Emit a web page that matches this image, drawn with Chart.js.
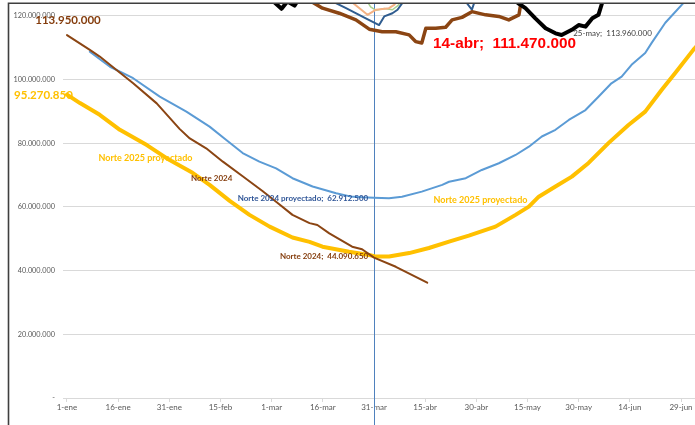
<!DOCTYPE html>
<html><head><meta charset="utf-8">
<script src="https://cdn.jsdelivr.net/npm/chart.js@4.4.1/dist/chart.umd.min.js"></script>
<style>html,body{margin:0;padding:0;background:#fff;overflow:hidden}canvas{display:block}</style>
</head><body>
<canvas id="c" width="695" height="425"></canvas>
<script>
// x = days since 1-ene (leap-year calendar), values in millions
const tickDays = [0,15,30,45,60,75,90,105,120,135,150,165,180];
const tickLabels = ['1-ene','16-ene','31-ene','15-feb','1-mar','16-mar','31-mar','15-abr','30-abr','15-may','30-may','14-jun','29-jun'];
const yTicks = [0,20,40,60,80,100,120];

const proy2025Days = [0,3.8,9.6,15.5,23.4,30.1,36.8,41.8,47.7,53.5,59.4,66.1,71.1,74.9,82.7,88.6,90.6,94.4,100.3,106.1,112,117.8,125.6,131.5,135.4,138.3,143.2,148,152.9,158.8,164.6,169.5,174.3,178.3,183.6,185];
const proy2025Vals = [95.27,92.6,88.9,84.2,79.4,74.7,70.7,66.9,61.9,57.5,53.8,50.4,49.0,47.5,45.9,44.9,44.4,44.4,45.5,47.1,49.1,51.0,53.8,57.5,60.1,63.2,66.4,69.5,73.8,80.1,85.7,89.9,96.7,102.0,109.3,111];

const proy2024Days = [6.7,12.6,19.4,27.2,35,41.8,46.7,51.5,56.4,61.3,66.1,72,78.9,83,86.5,90,94.4,98.2,104,110,112,116.9,121.6,126.6,131.5,135.4,139.2,143.2,147.1,152,155.8,159.6,162.6,165.5,169.5,171.4,175.4,180.7,185];
const proy2024Vals = [108.7,104.0,100.4,94.6,89.9,85.2,81.0,76.9,74.2,72.1,69.0,66.4,64.3,63.3,63.0,62.9,62.7,63.2,64.8,66.9,67.9,69.0,71.6,73.7,76.3,78.9,82.1,84.2,87.3,90.4,94.6,98.8,100.9,104.6,108.3,111.5,117.8,124,129];

const real2024Days = [0,6.7,9.6,12.6,19.4,26.3,33,36,40.8,45.7,51.5,57.3,61.3,66.1,71.1,73.4,76.9,83.6,86.5,90,96.4,105.6];
const real2024Vals = [113.95,109.3,107.2,104.6,98.8,92.5,84.5,81.5,78.4,74.2,69.6,65.0,61.6,57.5,54.9,54.3,51.7,47.5,46.7,44.09,41.2,36.2];

const real2025Days = [65,71.1,74.9,79.8,84.7,88.6,92.4,96.4,100.3,102.2,104,105.2,108.1,111,112.9,115.8,118.7,122.7,126.6,129.5,132.5,133.2,136];
const real2025Vals = [128,124.8,122.4,120.8,118.7,115.8,115.0,115.0,114.0,111.9,111.47,116.1,116.1,116.4,118.7,119.5,121.3,120.3,119.8,118.7,120.3,125,131];

const blackDays = [55,60,62.9,64.6,66.7,69,75,100,125,130,132.2,134.4,137.3,140.3,143.2,145,148,150,152,154,155.8,157,160];
const blackVals = [132,125,122.2,124.5,123.2,127,135,140,135,127,124,122.4,119.2,116.1,114.5,113.96,115.6,117.1,116.6,119.2,120.3,124.5,132];

const navyDays = [74,76.9,81.8,87.6,91.5,93,95.4,96.9,98.3,100,115,117.2,118.7,119.5,121,130];
const navyVals = [130,125,122.4,119.2,117.1,119.8,120.8,121.9,124,127,127,124,121.9,124.5,128,135];

const salmonDays = [80,82.7,88.1,90.6,94.4,95.9,97,100];
const salmonVals = [130,125,120.3,121.9,122.4,123.4,125,130];

const greenDays = [86,89,90.6,93,95.4,97,98.3,100];
const greenVals = [128,122.8,121.7,122.3,121.9,123.2,125,130];

const markerDay = 90; // 31-mar

const annotations = [
  {text:'113.950.000', day:0.3, val:118.7, color:'#843C0C', font:'bold 11.5px Lato', align:'center'},
  {text:'95.270.850', day:-6.9, val:95.1, color:'#FFC000', font:'bold 11.5px Lato', align:'center'},
  {text:'Norte 2025 proyectado', day:23.0, val:75.4, color:'#FFC000', font:'bold 9px Lato', align:'center'},
  {text:'Norte 2025 proyectado', day:121.2, val:62.0, color:'#FFC000', font:'bold 9px Lato', align:'center'},
  {text:'Norte 2024', day:42.4, val:68.9, color:'#843C0C', font:'bold 8px Lato', align:'center'},
  {text:'Norte 2024 proyectado;  62.912.500', day:88.3, val:62.8, color:'#2F5597', font:'bold 8px Lato', align:'right'},
  {text:'Norte 2024;  44.090.650', day:88.3, val:44.3, color:'#843C0C', font:'bold 8px Lato', align:'right'},
  {text:'14-abr;  111.470.000', day:107.3, val:111.2, color:'#FF0000', font:'bold 15.3px "Liberation Sans"', align:'left'},
  {text:'25-may;  113.960.000', day:148.4, val:114.6, color:'#404040', font:'8px Lato', align:'left'}
];

const pts = (d, v) => d.map((x, i) => ({x: x, y: v[i] * 1e6}));
const fmt = v => v === 0 ? '-' : String(Math.round(v)).replace(/\B(?=(\d{3})+(?!\d))/g, '.');

function ds(label, d, v, color, width, order) {
  return {label, data: pts(d, v), borderColor: color, backgroundColor: color, borderWidth: width,
    pointRadius: 0, tension: 0, order, clip: 0, borderJoinStyle: 'round', borderCapStyle: 'round'};
}

const overlay = {
  id: 'overlay',
  beforeDatasetsDraw(chart) {
    const ctx = chart.ctx, x = chart.scales.x.getPixelForValue(markerDay);
    ctx.save();
    ctx.strokeStyle = '#4F81BD'; ctx.lineWidth = 1;
    ctx.beginPath(); ctx.moveTo(Math.round(x) + 0.5, 3); ctx.lineTo(Math.round(x) + 0.5, 425); ctx.stroke();
    ctx.restore();
  },
  afterDraw(chart) {
    const ctx = chart.ctx, xs = chart.scales.x, ys = chart.scales.y;
    ctx.save();
    annotations.forEach(a => {
      ctx.font = a.font; ctx.fillStyle = a.color; ctx.textAlign = a.align; ctx.textBaseline = 'middle';
      ctx.fillText(a.text, xs.getPixelForValue(a.day), ys.getPixelForValue(a.val * 1e6));
    });
    ctx.strokeStyle = '#3F3F3F'; ctx.lineWidth = 1.6;
    ctx.beginPath(); ctx.moveTo(8.5, 425); ctx.lineTo(8.5, 3.3); ctx.lineTo(695, 3.3); ctx.stroke();
    ctx.restore();
  }
};

new Chart(document.getElementById('c'), {
  type: 'line',
  data: {datasets: [
    ds('Norte 2025 proyectado', proy2025Days, proy2025Vals, '#FFC000', 4, 5),
    ds('Norte 2024 proyectado', proy2024Days, proy2024Vals, '#5B9BD5', 2, 4),
    ds('Norte 2024', real2024Days, real2024Vals, '#8B4513', 2, 3),
    ds('Norte 2025', real2025Days, real2025Vals, '#8B4513', 3.5, 2),
    ds('Serie negra', blackDays, blackVals, '#000000', 4, 1),
    ds('Serie azul', navyDays, navyVals, '#2F5C8F', 2, 3),
    ds('Serie salmón', salmonDays, salmonVals, '#F4B183', 2, 6),
    ds('Serie verde', greenDays, greenVals, '#A9D18E', 1.5, 6)
  ]},
  options: {
    responsive: false, animation: false, devicePixelRatio: 1,
    layout: {padding: {top: 4, left: 0, right: 0, bottom: 0}},
    plugins: {legend: {display: false}, tooltip: {enabled: false}},
    scales: {
      x: {
        type: 'linear', min: -1.17, max: 184.1,
        afterBuildTicks: s => { s.ticks = tickDays.map(v => ({value: v})); },
        afterFit: s => { s.height = 27; s.paddingLeft = 0; s.paddingRight = 0; },
        ticks: {autoSkip: false, maxRotation: 0, padding: 1, color: '#595959', font: {family: 'Lato', size: 8},
          callback: v => tickLabels[tickDays.indexOf(v)] || ''},
        grid: {drawOnChartArea: false, drawTicks: true, tickLength: 4, color: '#D9D9D9'},
        border: {display: false}
      },
      y: {
        min: 0, max: 123.7e6,
        afterBuildTicks: s => { s.ticks = yTicks.map(v => ({value: v * 1e6})); },
        afterFit: s => { s.width = 63; s.paddingTop = 0; s.paddingBottom = 0; },
        ticks: {autoSkip: false, padding: 8, color: '#595959', font: {family: 'Lato', size: 7.3},
          callback: v => fmt(v)},
        grid: {drawTicks: false, color: '#D9D9D9', lineWidth: 1},
        border: {display: false}
      }
    }
  },
  plugins: [overlay]
});
</script>
</body></html>
